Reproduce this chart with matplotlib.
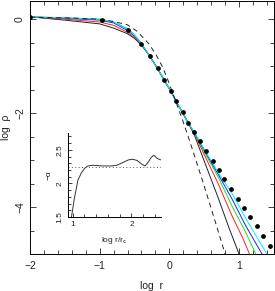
import matplotlib
matplotlib.use('Agg')
import matplotlib.pyplot as plt
from matplotlib.ticker import MultipleLocator

plt.rcParams['font.family'] = ['Liberation Sans', 'DejaVu Sans']
plt.rcParams['font.size'] = 7.5
plt.rcParams['axes.linewidth'] = 0.7
plt.rcParams['text.color'] = '#222222'
plt.rcParams['axes.labelcolor'] = '#222222'
plt.rcParams['xtick.color'] = '#222222'
plt.rcParams['ytick.color'] = '#222222'

# ── data ────────────────────────────────────────────────────────────────────
dots_x = [-2.0, -0.97, -0.60, -0.41, -0.28, -0.17, -0.07, 0.02, 0.10, 0.19, 0.27, 0.36,
          0.44, 0.53, 0.62, 0.71, 0.79, 0.89, 0.98, 1.07, 1.16, 1.26, 1.35, 1.45]
dots_y = [0.05, -0.01, -0.24, -0.53, -0.78, -1.04, -1.30, -1.52, -1.75, -1.98, -2.20, -2.41,
          -2.60, -2.81, -3.01, -3.21, -3.41, -3.61, -3.82, -4.01, -4.21, -4.41, -4.62, -4.83]

dash_x = [-2.0, -1.5, -1.0, -0.8, -0.6, -0.46, -0.29, -0.19, -0.10, -0.03, 0.05, 0.19, 0.30,
          0.50, 0.65, 0.80]
dash_y = [0.04, 0.03, 0.0, -0.05, -0.12, -0.26, -0.53, -0.76, -1.01, -1.26, -1.58, -2.15, -2.63,
          -3.55, -4.27, -5.0]

core_x = [-2.0, -1.5, -1.0, -0.8, -0.6, -0.5, -0.4]
mid_x = [-0.28, -0.17, -0.07, 0.02, 0.10, 0.19, 0.27]
mid_y = [-0.79, -1.05, -1.31, -1.53, -1.76, -1.99, -2.21]

black_core = [0.05, -0.02, -0.10, -0.19, -0.31, -0.41, -0.55]
red_core = [0.05, 0.0, -0.06, -0.13, -0.28, -0.39, -0.54]
blue_core = [0.05, 0.02, -0.02, -0.08, -0.24, -0.36, -0.53]
green_core = [0.05, 0.03, 0.0, -0.06, -0.20, -0.33, -0.52]
cyan_core = [0.05, 0.03, 0.0, -0.06, -0.21, -0.34, -0.52]

black_out_x = [0.36, 0.50, 0.70, 0.85, 1.00]
black_out_y = [-2.47, -3.02, -3.80, -4.42, -5.0]
red_out_x = [0.36, 0.50, 0.70, 0.90, 1.05, 1.15]
red_out_y = [-2.44, -2.88, -3.50, -4.19, -4.65, -5.0]
green_out_x = [0.36, 0.50, 0.70, 0.90, 1.10, 1.24]
green_out_y = [-2.43, -2.82, -3.36, -3.98, -4.55, -5.0]
blue_out_x = [0.36, 0.50, 0.70, 0.90, 1.10, 1.33]
blue_out_y = [-2.42, -2.79, -3.30, -3.83, -4.41, -5.0]
cyan_out_x = [0.36, 0.50, 0.70, 0.90, 1.10, 1.40]
cyan_out_y = [-2.41, -2.77, -3.26, -3.71, -4.25, -5.0]

# inset: local slope
slope_x = [0.98, 1.03, 1.09, 1.15, 1.21, 1.26, 1.35, 1.50, 1.65, 1.75, 1.85, 1.95, 2.02,
           2.10, 2.17, 2.23, 2.28, 2.33, 2.38, 2.44, 2.50]
slope_y = [1.50, 1.78, 2.05, 2.16, 2.23, 2.26, 2.27, 2.26, 2.26, 2.27, 2.31, 2.35, 2.36,
           2.34, 2.29, 2.26, 2.31, 2.38, 2.42, 2.37, 2.35]
slope_ref = 2.24

curves = [
    (black_core, black_out_x, black_out_y, '#222222'),
    (red_core, red_out_x, red_out_y, '#ff2020'),
    (green_core, green_out_x, green_out_y, '#20e020'),
    (blue_core, blue_out_x, blue_out_y, '#2020ff'),
    (cyan_core, cyan_out_x, cyan_out_y, '#00f0f0'),
]

fig = plt.figure(figsize=(2.75, 2.91), dpi=100)
ax = fig.add_axes([0.109, 0.127, 0.887, 0.870])

for core_y, ox, oy, col in curves:
    ax.plot(core_x + mid_x + ox, core_y + mid_y + oy, color=col, lw=0.7)
ax.plot(dash_x, dash_y, color='#222222', lw=0.7, ls=(0, (5, 4)))
ax.plot(dots_x, dots_y, 'o', color='black', ms=2.4)

ax.set_xlim(-2, 1.5)
ax.set_ylim(-5, 0.39)
ax.xaxis.set_major_locator(MultipleLocator(1))
ax.xaxis.set_minor_locator(MultipleLocator(0.2))
ax.yaxis.set_major_locator(MultipleLocator(2))
ax.yaxis.set_minor_locator(MultipleLocator(0.5))
ax.tick_params(which='both', direction='in', top=True, right=True, width=0.6)
ax.tick_params(which='major', length=4)
ax.tick_params(which='minor', length=3)
ax.tick_params(axis='x', pad=5)
ax.set_xticks([-2, -1, 0, 1])
ax.set_xticklabels(['\u22122', '\u22121', '0', '1'])
ax.set_yticks([-4, -2, 0])
ax.set_yticklabels(['\u22124', '\u22122', '0'], rotation=90, va='center')
ax.set_xlabel('log  r', labelpad=7)
ax.set_ylabel('log  \u03c1', labelpad=3)

# inset
ins = fig.add_axes([0.247, 0.254, 0.338, 0.289])
ins.plot(slope_x, slope_y, color='#333333', lw=0.7)
ins.axhline(slope_ref, color='#555555', lw=0.7, ls=(0, (1, 2.5)))
ins.set_xlim(0.92, 2.5)
ins.set_ylim(1.5, 2.75)
ins.spines['top'].set_visible(False)
ins.spines['right'].set_visible(False)
ins.patch.set_alpha(0)
ins.xaxis.set_major_locator(MultipleLocator(1))
ins.xaxis.set_minor_locator(MultipleLocator(0.2))
ins.yaxis.set_major_locator(MultipleLocator(0.5))
ins.yaxis.set_minor_locator(MultipleLocator(0.1))
ins.tick_params(which='both', direction='in', width=0.6, labelsize=6, pad=3)
ins.tick_params(which='major', length=3)
ins.tick_params(which='minor', length=2)
ins.set_yticks([1.5, 2.0, 2.5])
ins.set_yticklabels(['1.5', '2', '2.5'], rotation=90, va='center')
ins.set_xticks([1, 2])
ins.set_xticklabels(['1', '2'])
ins.set_xlabel('log r/r$_{\\rm c}$', fontsize=6, labelpad=5)
ins.set_ylabel('\u2212\u03b1', fontsize=6, labelpad=3)

fig.savefig('out.png', dpi=100)
